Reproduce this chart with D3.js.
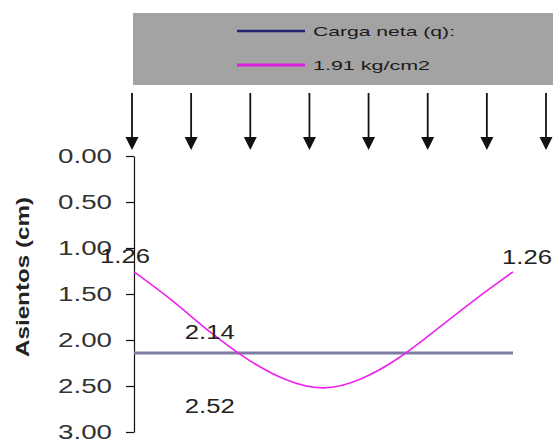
<!DOCTYPE html>
<html>
<head>
<meta charset="utf-8">
<script src="https://cdn.jsdelivr.net/npm/d3@7"></script>
<style>
  html, body { margin: 0; padding: 0; background: #fff; }
  svg { display: block; font-family: "Liberation Sans", Arial, sans-serif; }
</style>
</head>
<body>
<div id="chart"></div>
<script>
// distance along the footing (arbitrary units) and settlement values (cm)
const distances   = [0, 1, 2, 3, 4, 5, 6, 7, 8, 9, 10];
const asientos    = [1.26, 1.57, 1.91, 2.21, 2.43, 2.52, 2.42, 2.19, 1.88, 1.56, 1.26];
const cargaNeta   = [2.14, 2.14];
const cargaNetaX  = [0, 10];
const yTicks      = [0, 0.5, 1, 1.5, 2, 2.5, 3];
const legendItems = [['Carga neta (q):', '#23236e'], ['1.91 kg/cm2', '#e11fe1']];
const loadArrows  = d3.range(8);

const W = 555, H = 439;

const svg = d3.select('#chart').append('svg')
  .attr('width', W).attr('height', H);

// stretch text to the measured width of the original rendering
function fit(sel, w) {
  sel.attr('textLength', w).attr('lengthAdjust', 'spacingAndGlyphs');
}

const x = d3.scaleLinear().domain([0, 10]).range([134, 513]);
const y = d3.scaleLinear().domain([0, 3]).range([156, 432]);

// ── Legend box ───────────────────────────────────────────────────────────
svg.append('rect')
  .attr('x', 133).attr('y', 13).attr('width', 420).attr('height', 72)
  .attr('fill', '#a3a3a3');

const legendW = [142, 117];
legendItems.forEach(([label, color], i) => {
  const ly = 31 + i * 34;
  svg.append('line')
    .attr('x1', 237).attr('x2', 305).attr('y1', ly).attr('y2', ly)
    .attr('stroke', color).attr('stroke-width', i === 0 ? 2.5 : 3);
  svg.append('text')
    .attr('x', 313).attr('y', ly).attr('dy', '0.35em')
    .attr('font-size', 13).attr('fill', '#1a1a1a')
    .text(label)
    .call(fit, legendW[i]);
});

// ── Load arrows ──────────────────────────────────────────────────────────
const ax = d3.scaleLinear().domain([0, loadArrows.length - 1]).range([132, 546]);
loadArrows.forEach(i => {
  const cx = ax(i);
  svg.append('line')
    .attr('x1', cx).attr('x2', cx).attr('y1', 93).attr('y2', 139)
    .attr('stroke', '#111').attr('stroke-width', 1.8);
  svg.append('path')
    .attr('d', `M${cx - 6.5},137 L${cx + 6.5},137 L${cx},150 Z`)
    .attr('fill', '#111');
});

// ── Y axis ───────────────────────────────────────────────────────────────
const yAxis = svg.append('g')
  .attr('transform', 'translate(134,0)')
  .call(d3.axisLeft(y).tickValues(yTicks).tickFormat(d3.format('.2f'))
    .tickSize(8).tickSizeOuter(0).tickPadding(14));
yAxis.select('.domain').attr('stroke', '#111').attr('stroke-width', 1.2);
yAxis.selectAll('.tick line').attr('stroke', '#111').attr('stroke-width', 1.2);
yAxis.selectAll('.tick text')
  .attr('font-size', 20).attr('fill', '#333')
  .attr('font-family', '"Liberation Sans", Arial, sans-serif')
  .call(fit, 54);

svg.append('text')
  .attr('transform', 'translate(29,277) rotate(-90)')
  .attr('text-anchor', 'middle')
  .attr('font-size', 19).attr('font-weight', 'bold').attr('fill', '#222')
  .text('Asientos (cm)')
  .call(fit, 160);

// ── Series ───────────────────────────────────────────────────────────────
svg.append('path')
  .datum(cargaNetaX.map((d, i) => [d, cargaNeta[i]]))
  .attr('d', d3.line().x(d => x(d[0])).y(d => y(d[1])))
  .attr('fill', 'none').attr('stroke', '#7c7ca3').attr('stroke-width', 3);

svg.append('path')
  .datum(distances.map((d, i) => [d, asientos[i]]))
  .attr('d', d3.line().x(d => x(d[0])).y(d => y(d[1])).curve(d3.curveNatural))
  .attr('fill', 'none').attr('stroke', '#ee22ee').attr('stroke-width', 1.6);

// ── Data labels ──────────────────────────────────────────────────────────
const fmt = d3.format('.2f');
function label(tx, ty, v) {
  svg.append('text')
    .attr('x', tx).attr('y', ty).attr('text-anchor', 'middle')
    .attr('font-size', 20).attr('fill', '#222')
    .text(fmt(v))
    .call(fit, 50);
}
const last = asientos.length - 1;
label(x(distances[0]) - 9, y(asientos[0]) - 9, asientos[0]);
label(x(distances[last]) + 14, y(asientos[last]) - 8, asientos[last]);
label(x(2), y(cargaNeta[0]) - 14, cargaNeta[0]);
label(x(2), y(d3.max(asientos)) + 25, d3.max(asientos));
</script>
</body>
</html>
